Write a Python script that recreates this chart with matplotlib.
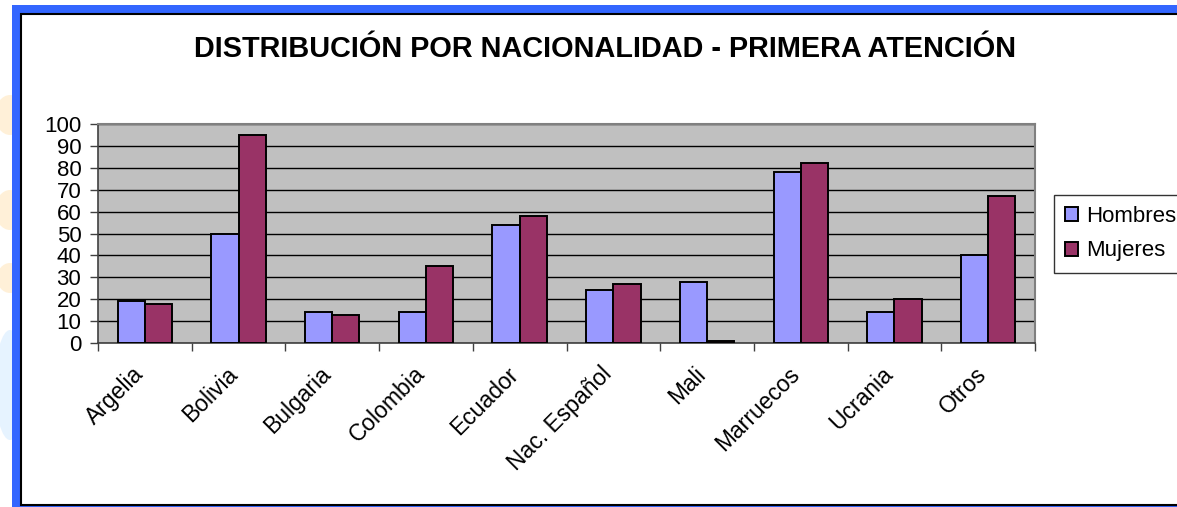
import matplotlib
matplotlib.use("Agg")
import matplotlib.pyplot as plt
import matplotlib.transforms as mtransforms
from matplotlib.patches import Rectangle, Ellipse
import numpy as np

# Data
paises = ["Argelia", "Bolivia", "Bulgaria", "Colombia", "Ecuador",
          "Nac. Español", "Mali", "Marruecos", "Ucrania", "Otros"]
hombres = [19, 50, 14, 14, 54, 24, 28, 78, 14, 40]
mujeres = [18, 95, 13, 35, 58, 27, 1, 82, 20, 67]
y_ticks = list(range(0, 101, 10))

TITLE = "DISTRIBUCIÓN POR NACIONALIDAD - PRIMERA ATENCIÓN"
C_HOM = "#9999FF"
C_MUJ = "#993366"
PLOT_BG = "#C0C0C0"
BLUE = "#3366FF"

W, H = 1177, 507
plt.rcParams["font.family"] = ["Liberation Sans", "DejaVu Sans"]

fig = plt.figure(figsize=(W / 100, H / 100), dpi=100)
fig.patch.set_facecolor("white")


def px(x0, y0, x1, y1):
    """pixel box (top-left origin) -> figure fraction rect"""
    return (x0 / W, 1 - y1 / H, (x1 - x0) / W, (y1 - y0) / H)


# faint slide decorations on the left edge
for cx, cy, ew, eh, col in [(10, 115, 30, 40, "#FFEBC8"),
                            (10, 210, 30, 40, "#FFEBC8"),
                            (10, 278, 26, 30, "#FFEBC8"),
                            (10, 385, 30, 110, "#DCEEFF")]:
    fig.patches.append(Ellipse((cx / W, 1 - cy / H), ew / W, eh / H,
                               transform=fig.transFigure, facecolor=col,
                               edgecolor="none", alpha=0.7, zorder=0))

# blue slide frame + black chart border
fig.patches.append(Rectangle((12 / W, 0), (W - 12) / W, 1 - 5 / H,
                             transform=fig.transFigure, facecolor=BLUE,
                             edgecolor="none", zorder=1))
fig.patches.append(Rectangle((21 / W, 2 / H), (W + 10 - 21) / W, 1 - 16 / H,
                             transform=fig.transFigure, facecolor="white",
                             edgecolor="black", linewidth=1.5, zorder=2))

ax = fig.add_axes(px(98, 124, 1035, 343))
ax.set_zorder(3)
ax.set_facecolor(PLOT_BG)

x = np.arange(len(paises))
bw = 0.29
ax.bar(x - bw / 2, hombres, bw, color=C_HOM, edgecolor="black",
       linewidth=1.4, label="Hombres", zorder=3)
ax.bar(x + bw / 2, mujeres, bw, color=C_MUJ, edgecolor="black",
       linewidth=1.4, label="Mujeres", zorder=3)

ax.set_xlim(-0.5, len(paises) - 0.5)
ax.set_ylim(0, 100)
ax.set_yticks(y_ticks)
ax.set_yticklabels([str(v) for v in y_ticks], fontsize=16)
ax.yaxis.grid(True, color="black", linewidth=1)
ax.set_axisbelow(True)
ax.tick_params(axis="y", length=6, width=1, color="#404040", pad=6)

ax.set_xticks(x)
ax.set_xticklabels(paises, rotation=45, ha="right", va="top",
                   rotation_mode="anchor", fontsize=16.5)
ax.tick_params(axis="x", length=0, pad=14)
shift = mtransforms.ScaledTranslation(-13 / 100, 0, fig.dpi_scale_trans)
for lab in ax.get_xticklabels():
    lab.set_transform(lab.get_transform() + shift)
ax.set_xticks(np.arange(-0.5, len(paises) + 0.5, 1), minor=True)
ax.tick_params(axis="x", which="minor", length=6, width=1, color="#404040")

for side in ("top", "right"):
    ax.spines[side].set_color("#808080")
    ax.spines[side].set_linewidth(1.5)
for side in ("left", "bottom"):
    ax.spines[side].set_color("#404040")
    ax.spines[side].set_linewidth(1.2)

fig.text(605 / W, 1 - 49 / H, TITLE, ha="center", va="center",
         fontsize=20.8, fontweight="bold", zorder=4)

leg = fig.legend(loc="upper left", bbox_to_anchor=(1054 / W, 1 - 195 / H),
                 fontsize=16, frameon=True, fancybox=False,
                 edgecolor="black", handlelength=0.6, handleheight=0.6,
                 handletextpad=0.35, labelspacing=0.6, borderpad=0.5,
                 borderaxespad=0)
leg.get_frame().set_linewidth(1)
leg.set_zorder(5)

fig.savefig("out.png", dpi=100)
